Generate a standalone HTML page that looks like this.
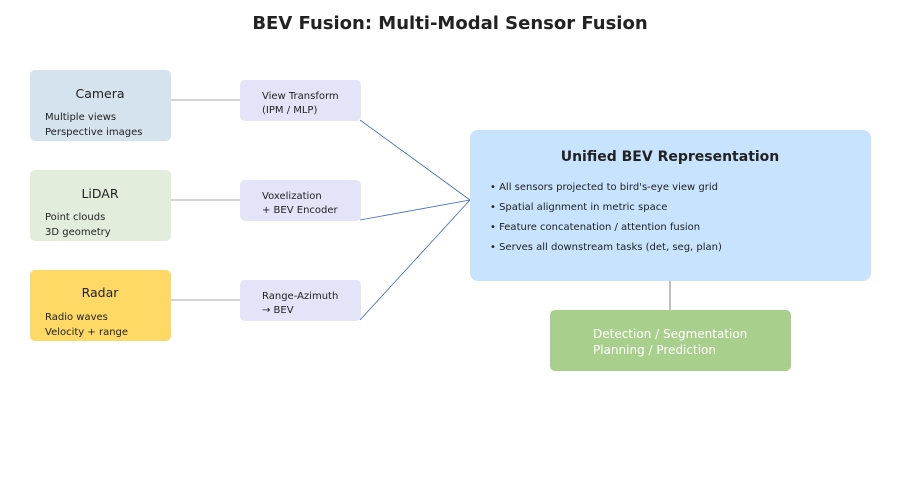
<!DOCTYPE html>
<html><head><meta charset="utf-8"><style>
html,body{margin:0;padding:0;background:#fff;}
svg{display:block;font-family:"DejaVu Sans","Liberation Sans",sans-serif;}
</style></head><body>
<svg width="900" height="500" viewBox="0 0 900 500" xmlns="http://www.w3.org/2000/svg">
<rect width="900" height="500" fill="#fff"/>
<text x="450" y="29" text-anchor="middle" font-size="18" font-weight="bold" fill="#222">BEV Fusion: Multi-Modal Sensor Fusion</text>

<line x1="171" y1="100" x2="240" y2="100" stroke="#aaa" stroke-width="1"/>
<line x1="171" y1="200" x2="240" y2="200" stroke="#aaa" stroke-width="1"/>
<line x1="171" y1="300" x2="240" y2="300" stroke="#aaa" stroke-width="1"/>
<line x1="360" y1="120" x2="470" y2="200" stroke="#3a66c4" stroke-width="0.8"/>
<line x1="360" y1="220" x2="470" y2="200" stroke="#3a66c4" stroke-width="0.8"/>
<line x1="360" y1="320" x2="470" y2="200" stroke="#3a66c4" stroke-width="0.8"/>
<line x1="670" y1="280" x2="670" y2="310" stroke="#aaa" stroke-width="1.5"/>

<rect x="30" y="70" width="141" height="71" rx="5" fill="#d5e3ee"/>
<text x="100" y="98" text-anchor="middle" font-size="12.5" fill="#222">Camera</text>
<text x="45" y="120" font-size="10" fill="#222">Multiple views</text>
<text x="45" y="135" font-size="10" fill="#222">Perspective images</text>

<rect x="30" y="170" width="141" height="71" rx="5" fill="#e2eedb"/>
<text x="100" y="198" text-anchor="middle" font-size="12.5" fill="#222">LiDAR</text>
<text x="45" y="220" font-size="10" fill="#222">Point clouds</text>
<text x="45" y="235" font-size="10" fill="#222">3D geometry</text>

<rect x="30" y="270" width="141" height="71" rx="5" fill="#fed966"/>
<text x="100" y="297" text-anchor="middle" font-size="12.5" fill="#222">Radar</text>
<text x="45" y="320" font-size="10" fill="#222">Radio waves</text>
<text x="45" y="335" font-size="10" fill="#222">Velocity + range</text>

<rect x="240" y="80" width="121" height="41" rx="5" fill="#e3e4f7"/>
<text x="262" y="99" font-size="10" fill="#222">View Transform</text>
<text x="262" y="113" font-size="10" fill="#222">(IPM / MLP)</text>
<rect x="240" y="180" width="121" height="41" rx="5" fill="#e3e4f7"/>
<text x="262" y="199" font-size="10" fill="#222">Voxelization</text>
<text x="262" y="213" font-size="10" fill="#222">+ BEV Encoder</text>
<rect x="240" y="280" width="121" height="41" rx="5" fill="#e3e4f7"/>
<text x="262" y="299" font-size="10" fill="#222">Range-Azimuth</text>
<text x="262" y="313" font-size="10" fill="#222">→ BEV</text>

<rect x="470" y="130" width="401" height="151" rx="8" fill="#c7e3fd"/>
<text x="670" y="161" text-anchor="middle" font-size="14" font-weight="bold" fill="#222">Unified BEV Representation</text>
<text x="490" y="190" font-size="10" fill="#222">• All sensors projected to bird's-eye view grid</text>
<text x="490" y="210" font-size="10" fill="#222">• Spatial alignment in metric space</text>
<text x="490" y="230" font-size="10" fill="#222">• Feature concatenation / attention fusion</text>
<text x="490" y="250" font-size="10" fill="#222">• Serves all downstream tasks (det, seg, plan)</text>

<rect x="550" y="310" width="241" height="61" rx="5" fill="#a8d08c"/>
<text x="593" y="338" font-size="12" fill="#fff">Detection / Segmentation</text>
<text x="593" y="354" font-size="12" fill="#fff">Planning / Prediction</text>
</svg>
</body></html>
